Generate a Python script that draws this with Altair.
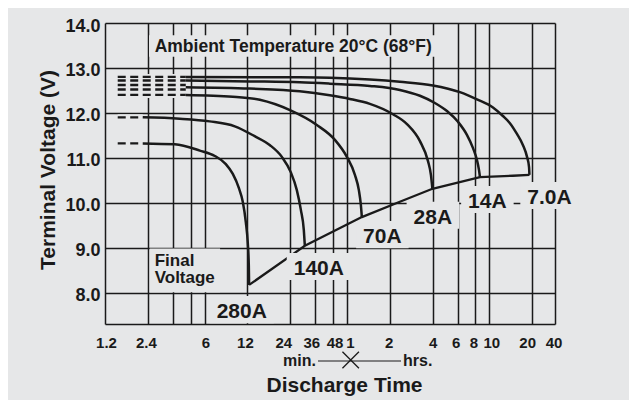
import altair as alt
import pandas as pd

BG = "#e6e7e8"
INK = "#1a1a1a"
FONT = "Liberation Sans"

# ---- data (time in minutes, voltage in V) ----
curve_names = ["280A", "140A", "70A", "28A", "14A", "7.0A"]
t_280A = [2.21, 3.71, 5.56, 7.09, 8.47, 9.48, 10.45, 11.14, 11.70, 12.08, 12.28, 12.34]
v_280A = [11.32, 11.30, 11.16, 11.04, 10.86, 10.64, 10.33, 10.02, 9.57, 9.10, 8.61, 8.17]
t_140A = [2.21, 4.02, 6.53, 9.79, 13.5, 17.3, 20.96, 24.2, 26.7, 28.5, 29.9, 30.4]
v_140A = [11.90, 11.87, 11.81, 11.70, 11.48, 11.28, 11.02, 10.68, 10.28, 9.84, 9.39, 9.04]
t_70A = [4.43, 9.48, 14.68, 23.9, 36.9, 49.4, 60.0, 68.3, 72.8, 75.2, 76.4]
v_70A = [12.40, 12.36, 12.29, 12.06, 11.73, 11.40, 11.02, 10.62, 10.28, 9.95, 9.68]
t_28A = [4.43, 12.48, 28.0, 45.5, 62.9, 87.0, 126.3, 158.5, 195.5, 222.5, 233.5, 239.2]
v_28A = [12.57, 12.54, 12.48, 12.39, 12.31, 12.20, 11.97, 11.75, 11.37, 10.93, 10.62, 10.31]
t_14A = [4.43, 12.48, 28.0, 45.5, 87.0, 141.3, 195.5, 249, 302.6, 361.6, 418, 460.6, 491.6, 507.9, 516]
v_14A = [12.72, 12.70, 12.68, 12.65, 12.60, 12.51, 12.38, 12.22, 12.04, 11.80, 11.51, 11.22, 10.95, 10.73, 10.57]
t_7A = [4.43, 28.0, 45.5, 87.0, 141.3, 241, 373, 491.6, 637, 748, 838, 939, 1035, 1105, 1141, 1149]
v_7A = [12.80, 12.79, 12.78, 12.74, 12.69, 12.61, 12.46, 12.30, 12.12, 11.93, 11.77, 11.53, 11.28, 11.02, 10.80, 10.62]

final_t = [12.34, 30.4, 76.4, 141.3, 239.2, 516, 880, 1149]
final_v = [8.17, 9.04, 9.68, 10.02, 10.31, 10.57, 10.60, 10.62]

lead_v = [12.80, 12.72, 12.62, 12.52, 12.40, 11.90, 11.32]
lead_t0 = [1.474, 1.474, 1.474, 1.474, 1.474, 1.474, 1.474]
lead_t1 = [4.43, 4.43, 4.43, 4.43, 4.43, 2.21, 2.21]

label_text = ["280A", "140A", "70A", "28A", "14A", "7.0A"]
label_t = [10.96, 38.1, 106.5, 241, 582, 1589]
label_v = [7.43, 8.39, 9.10, 9.53, 9.88, 9.97]

title_text = "Ambient Temperature 20°C (68°F)"
title_t = 25.2
title_v = 13.36
final_lines = ["Final", "Voltage"]
final_lab_t = 2.68
final_lab_v = 8.60

x_tick_vals = [1.2, 2.4, 3.6, 4.8, 6, 12, 24, 36, 48, 60, 120, 240, 360, 480, 600, 1200, 1737]
x_tick_text = ["1.2", "2.4", "", "", "6", "12", "24", "36", "48", "1", "2", "4", "6", "8", "10", "20", "40"]
x_label_shift = [1, -2, 0, 0, 1, -2.5, -7, -4, 1.5, 3, -1, 0, -2, -2, 2, -5, -1.5]
y_tick_vals = [7.3, 8, 9, 10, 11, 12, 13, 14]

# ---- tables ----
curve_series = [t_280A, t_140A, t_70A, t_28A, t_14A, t_7A]
curve_values = [v_280A, v_140A, v_70A, v_28A, v_14A, v_7A]
df_curves = pd.concat(
    [pd.DataFrame({"series": n, "t": t, "V": v, "i": list(range(len(t)))})
     for n, t, v in zip(curve_names, curve_series, curve_values)],
    ignore_index=True)
df_final = pd.DataFrame({"t": final_t, "V": final_v, "i": list(range(len(final_t)))})
df_lead = pd.DataFrame({"t": lead_t0, "t1": lead_t1, "V": lead_v})

x_scale = alt.Scale(type="log", domain=[1.2, 1737], nice=False)
y_scale = alt.Scale(domain=[7.3, 14.0], nice=False, zero=False)

vals_js = "[" + ",".join(repr(v) for v in x_tick_vals) + "]"
x_label_expr = "%s[indexof(%s, datum.value)]" % (
    "[" + ",".join("'%s'" % s for s in x_tick_text) + "]", vals_js)
x_offset_cond = {
    "condition": [{"test": "datum.value == %r" % v, "value": s}
                  for v, s in zip(x_tick_vals, x_label_shift) if s != 0],
    "value": 0,
}

x_axis = alt.Axis(
    values=x_tick_vals, labelExpr=x_label_expr, grid=True, gridColor=INK,
    gridWidth=1.5, gridOpacity=1, ticks=False, tickSize=0, domain=False,
    labelFont=FONT, labelFontSize=15, labelFontWeight="bold", labelColor=INK,
    labelPadding=11, labelOverlap=False, labelFlush=False, labelBound=False,
    labelOffset=x_offset_cond,
    title="Discharge Time", titleFont=FONT, titleFontSize=21, titleFontWeight="bold",
    titleColor=INK, titleX=239, titleY=67, titleBaseline="alphabetic", titleAlign="center")
y_axis = alt.Axis(
    values=y_tick_vals, labelExpr="datum.value < 7.5 ? '' : format(datum.value, '.1f')",
    grid=True, gridColor=INK, gridWidth=1.5, gridOpacity=1, ticks=False, tickSize=0,
    domain=False, labelFont=FONT, labelFontSize=18, labelFontWeight="bold", labelColor=INK,
    labelPadding=5, labelOffset=3, labelOverlap=False,
    title="Terminal Voltage (V)", titleFont=FONT, titleFontSize=21, titleFontWeight="bold",
    titleColor=INK, titleX=-51, titleY=146.5, titleAngle=270, titleBaseline="alphabetic",
    titleAlign="center")

X = lambda f: alt.X(f, type="quantitative", scale=x_scale, axis=x_axis, title="Discharge Time")
Y = lambda f: alt.Y(f, type="quantitative", scale=y_scale, axis=y_axis, title="Terminal Voltage (V)")

# approximate bold sans advance widths (em units) for sizing label backgrounds
W = {" ": .278, ".": .278, "A": .722, "C": .722, "F": .611, "T": .611, "V": .667,
     "(": .333, ")": .333, "°": .4, "a": .556, "b": .611, "e": .556, "g": .611,
     "i": .278, "l": .278, "m": .889, "n": .611, "o": .611, "p": .611, "r": .389,
     "t": .333, "u": .611}


def text_w(s, size):
    return sum(W.get(c, .556) for c in s) * size


layers = []
lead_halo = alt.Chart(df_lead).mark_rule(stroke=BG, strokeWidth=6).encode(
    x=X("t"), x2="t1:Q", y=Y("V"))
lead = alt.Chart(df_lead).mark_rule(stroke=INK, strokeWidth=2.4, strokeDash=[8, 4.5]).encode(
    x=X("t"), x2="t1:Q", y=Y("V"))
curves = alt.Chart(df_curves).mark_line(color=INK, strokeWidth=2.5, interpolate="monotone").encode(
    x=X("t"), y=Y("V"), detail="series:N", order="i:Q")
final = alt.Chart(df_final).mark_line(color=INK, strokeWidth=2.3).encode(
    x=X("t"), y=Y("V"), order="i:Q")
layers += [lead_halo, lead, curves, final]


def box(t, v, x0, x1, y0, y1):
    d = pd.DataFrame({"t": [t], "V": [v]})
    return alt.Chart(d).mark_rect(color=BG, xOffset=x0, x2Offset=x1, yOffset=y0, y2Offset=y1).encode(
        x=X("t"), x2="t:Q", y=Y("V"), y2="V:Q")


def txt(t, v, s, size, align, extra=None):
    d = pd.DataFrame({"t": [t], "V": [v], "txt": [s]})
    return alt.Chart(d).mark_text(
        font=FONT, fontSize=size, fontWeight="bold", align=align, baseline="alphabetic",
        color=INK, **(extra or {})).encode(x=X("t"), y=Y("V"), text="txt:N")


# label backgrounds then labels
LS = 21
for s, t, v in zip(label_text, label_t, label_v):
    w = text_w(s, LS)
    layers.append(box(t, v, -w / 2 - 7, w / 2 + 7, -0.716 * LS - 7, 5))
for s, t, v in zip(label_text, label_t, label_v):
    layers.append(txt(t, v, s, LS, "center"))

TS = 17.5
tw = text_w(title_text, TS)
layers.append(box(title_t, title_v, -tw / 2 - 5, tw / 2 + 5, -0.716 * TS - 4, 5))
layers.append(txt(title_t, title_v, title_text, TS, "center"))

FS = 17
fw = max(text_w(s, FS) for s in final_lines)
layers.append(box(final_lab_t, final_lab_v, -5, fw + 4, -0.716 * FS - 5, 17.6 + 9))
layers.append(txt(final_lab_t, final_lab_v, "\n".join(final_lines), FS, "left",
                  {"lineBreak": "\n", "lineHeight": 17.6}))

one = alt.Data(values=[{"k": 1}])
min_txt = alt.Chart(one).mark_text(font=FONT, fontSize=16, fontWeight="bold", align="right",
                                   baseline="alphabetic", color=INK, text="min.").encode(
    x=alt.value(211), y=alt.value(343))
hrs_txt = alt.Chart(one).mark_text(font=FONT, fontSize=16, fontWeight="bold", align="left",
                                   baseline="alphabetic", color=INK, text="hrs.").encode(
    x=alt.value(298), y=alt.value(343))
unit_line = alt.Chart(one).mark_rule(stroke=INK, strokeWidth=1.2).encode(
    x=alt.value(213), x2=alt.value(296), y=alt.value(338))
cross = alt.Chart(one).mark_point(shape="M-1,-1L1,1M-1,1L1,-1", filled=False, stroke=INK,
                                  strokeWidth=1.3, size=272, opacity=1).encode(
    x=alt.value(245.7), y=alt.value(337))
layers += [min_txt, hrs_txt, unit_line, cross]

chart = alt.layer(*layers).properties(
    width=450, height=301, background=BG,
    padding={"left": 97, "top": 15, "right": 74, "bottom": 76},
    autosize=alt.AutoSizeParams(type="none"),
).configure_view(stroke=None)

chart.save("out.html", embed_options={"renderer": "svg", "actions": False})
